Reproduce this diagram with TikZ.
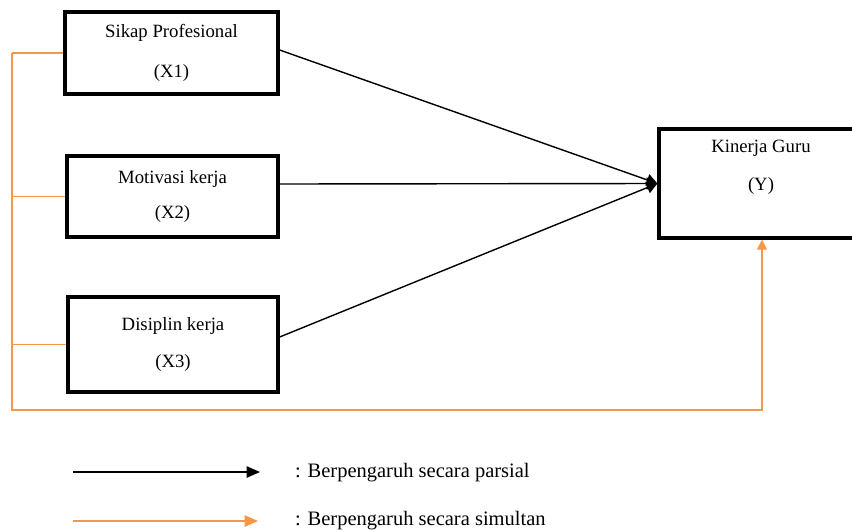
\documentclass[tikz,border=0pt]{standalone}
\usepackage{fontspec}
\setmainfont{Liberation Serif}
\usetikzlibrary{arrows.meta}
\definecolor{simulorange}{RGB}{247,150,70}
\newcommand\px{0.03cm}
\newcommand\txtsize{\fontsize{16}{19}\selectfont}
\tikzset{
  varbox/.style={draw,line width=2.8pt,inner sep=0pt,align=center,font=\txtsize},
  vartext/.style={align=center,font=\txtsize},
  parsial/.style={line width=1.2pt,-{Triangle[length=3.2mm,width=3.6mm]}},
  simultan/.style={draw=simulorange,line width=1.2pt},
  legendhead/.style={-{Triangle[length=4mm,width=3.4mm]}},
  legendtext/.style={anchor=west,font=\fontsize{17.5}{20}\selectfont}
}

\begin{document}
\begin{tikzpicture}[x=\px,y=-\px]
    \useasboundingbox (0,0) rectangle (852,529);
    \clip (0,0) rectangle (852,529);
    % variabel bebas
    \node[varbox,minimum width=213*\px,minimum height=82*\px] (x1) at (171.5,53)
      {Sikap Profesional\\[15pt](X1)};
    \node[varbox,minimum width=211*\px,minimum height=81*\px] (x2) at (172.5,196.5)
      {Motivasi kerja\\[11pt](X2)};
    \node[varbox,minimum width=210*\px,minimum height=95*\px] (x3) at (173,344.5)
      {Disiplin kerja\\[12.5pt](X3)};
    % variabel terikat
    \node[varbox,minimum width=206*\px,minimum height=109*\px] (y) at (762,183.5) {};
    \node[vartext] (yt) at (761,167) {Kinerja Guru\\[13.5pt](Y)};
    % pengaruh parsial
    \foreach \n/\dy in {x1/3,x2/12.5,x3/7.5}{
      \draw[parsial] ([yshift=\dy*\px]\n.east) -- (y.west);}
    % pengaruh simultan
    \coordinate (railtop) at (12,53);
    \coordinate (railbot) at (12,410);
    \foreach \n in {x1,x2,x3}{
      \draw[simultan] (\n.west) -- (\n.west -| railtop);}
    \draw[simultan,-{Triangle[length=3mm,width=3mm]}] (railtop) -- (railbot) -| (y.south);
    % keterangan
    \coordinate (lp0) at (73,472);
    \coordinate (lp1) at (260,472);
    \coordinate (ls0) at (73,521);
    \coordinate (ls1) at (258,521);
    \draw[line width=1.2pt,legendhead] (lp0) -- (lp1);
    \draw[simultan,legendhead,fill=simulorange] (ls0) -- (ls1);
    \node[legendtext] (lgp) at (291,473) {: Berpengaruh secara parsial};
    \node[legendtext] (lgs) at (291,521) {: Berpengaruh secara simultan};
%    \draw[simultan] (railbot) -- (762,410);
  \end{tikzpicture}
\end{document}
